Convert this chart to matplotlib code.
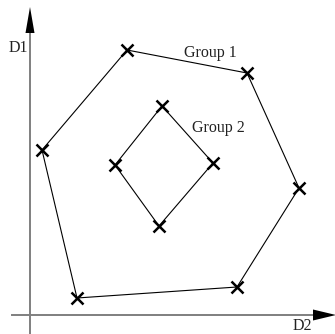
import numpy as np
import matplotlib
matplotlib.use("Agg")
import matplotlib.pyplot as plt

plt.rcParams['font.family'] = ['Liberation Serif', 'DejaVu Serif']

# Group 1 (outer hexagon) and Group 2 (inner diamond), D2 horizontal, D1 vertical
g1_d2 = [97, 217, 269, 207, 47, 12]
g1_d1 = [265, 242, 127, 28, 17, 165]
g2_d2 = [132, 183, 129, 85]
g2_d1 = [209, 152, 89, 150]

fig = plt.figure(figsize=(3.35, 3.34), dpi=100)
ax = fig.add_axes([0, 0, 1, 1])
ax.set_xlim(-30, 305)
ax.set_ylim(-19, 315)
ax.axis('off')

# axes lines (gray) with black arrow heads
axis_col = '#7f7f7f'
ax.plot([0, 0], [-19, 285], color=axis_col, lw=1.4, zorder=1)
ax.plot([-18, 285], [0, 0], color=axis_col, lw=1.4, zorder=1)
ax.fill([-4.5, 4.5, 0], [282, 282, 308], color='black', lw=0, zorder=2)
ax.fill([283, 283, 306], [-5.5, 5.5, 0], color='black', lw=0, zorder=2)

# closed polygons with cross markers
for d2, d1 in [(g1_d2, g1_d1), (g2_d2, g2_d1)]:
    xs = np.append(d2, d2[0])
    ys = np.append(d1, d1[0])
    ax.plot(xs, ys, color='black', lw=0.8, zorder=3)
    ax.plot(d2, d1, 'x', color='black', ms=8.5, mew=1.8, zorder=4)

ax.text(180, 262, 'Group 1', fontsize=11.5, ha='center', va='center', color='#222222')
ax.text(188, 187, 'Group 2', fontsize=11.5, ha='center', va='center', color='#222222')
ax.text(-12, 267, 'D1', fontsize=11.5, ha='center', va='center', color='#222222')
ax.text(272, -10.5, 'D2', fontsize=11.5, ha='center', va='center', color='#222222')

fig.savefig('out.png', dpi=100)
